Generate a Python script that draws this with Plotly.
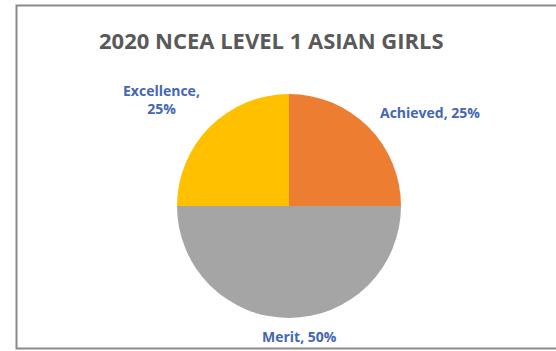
import plotly.graph_objects as go

# NCEA Level 1 results, Asian girls, 2020
categories = ["Achieved", "Merit", "Excellence"]
shares = [25, 50, 25]
slice_colors = ["#ED7D31", "#A5A5A5", "#FFC000"]

W, H = 556, 351
cx, cy, r = 289, 206, 112

fig = go.Figure(
    go.Pie(
        labels=categories,
        values=shares,
        sort=False,
        direction="clockwise",
        rotation=0,
        marker=dict(colors=slice_colors, line=dict(width=0)),
        textinfo="none",
        hoverinfo="label+percent",
        showlegend=False,
        domain=dict(x=[(cx - r) / W, (cx + r) / W], y=[1 - (cy + r) / H, 1 - (cy - r) / H]),
    )
)

label_font = dict(family="Open Sans", size=14, color="#4467B4")
total = sum(shares)
pct = {c: f"{round(v / total * 100)}%" for c, v in zip(categories, shares)}

# data label placement (pixel positions of label centres)
label_pos = {
    "Achieved": (430, 112, "{c}, {p}"),
    "Merit": (299, 336, "{c}, {p}"),
    "Excellence": (161, 100, "{c},<br>{p}"),
}
annotations = []
for c in categories:
    x, y, fmt = label_pos[c]
    annotations.append(
        dict(
            x=x / W, y=1 - y / H, xref="paper", yref="paper",
            text="<b>" + fmt.format(c=c, p=pct[c]) + "</b>",
            showarrow=False, font=label_font, align="center",
            xanchor="center", yanchor="middle",
        )
    )

annotations.append(
    dict(
        x=271 / W, y=1 - 40 / H, xref="paper", yref="paper",
        text="<b>2020 NCEA LEVEL 1 ASIAN GIRLS</b>",
        showarrow=False, font=dict(family="Open Sans", size=22, color="#595959"),
        xanchor="center", yanchor="middle",
    )
)

fig.update_layout(
    width=W, height=H,
    margin=dict(l=0, r=0, t=0, b=0),
    paper_bgcolor="white",
    plot_bgcolor="white",
    annotations=annotations,
    shapes=[
        dict(
            type="rect", xref="paper", yref="paper",
            x0=16.5 / W, x1=1.02, y0=1 - 348.5 / H, y1=1 - 5.5 / H,
            line=dict(color="#8a8a8a", width=2), fillcolor="rgba(0,0,0,0)",
        )
    ],
)

fig.write_html("out.html")
